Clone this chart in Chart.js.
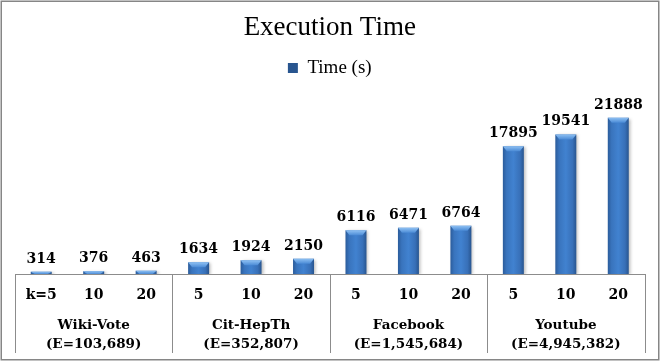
<!DOCTYPE html>
<html>
<head>
<meta charset="utf-8">
<script src="https://cdn.jsdelivr.net/npm/chart.js@4/dist/chart.umd.min.js"></script>
<style>
    html, body { margin: 0; padding: 0; background: #fff; }
    #wrap { width: 661px; height: 362px; }
</style>
</head>
<body>
<div id="wrap"><canvas id="timeChart" width="661" height="362"></canvas></div>
<script>
// 数据
const tickLabels = ["k=5", "10", "20", "5", "10", "20", "5", "10", "20", "5", "10", "20"];
const graphNames = ["Wiki-Vote", "Cit-HepTh", "Facebook", "Youtube"];
const edgeCounts = ["(E=103,689)", "(E=352,807)", "(E=1,545,684)", "(E=4,945,382)"];
const timeSeconds = [314, 376, 463, 1634, 1924, 2150, 6116, 6471, 6764, 17895, 19541, 21888];

const labelFont = '"DejaVu Serif", serif';
const textFont = '"Liberation Serif", "Times New Roman", serif';
const barShare = 0.4;

// 柱子横向渐变
function barFill(context) {
    const chart = context.chart;
    if (!chart.chartArea || context.type !== "data") return "#3f7bc6";
    const xScale = chart.scales.x;
    const cx = xScale.getPixelForValue(context.dataIndex);
    const half = xScale.width / tickLabels.length * barShare / 2;
    const g = chart.ctx.createLinearGradient(cx - half, 0, cx + half, 0);
    g.addColorStop(0, "#2b5c9b");
    g.addColorStop(0.18, "#3974bd");
    g.addColorStop(0.5, "#4182d0");
    g.addColorStop(0.82, "#3870b8");
    g.addColorStop(1, "#28558f");
    return g;
}

// 外框、分组线
const frame = {
    id: "frame",
    beforeInit(chart) {
        const fit = chart.legend.fit;
        chart.legend.fit = function() {
            fit.bind(chart.legend)();
            this.height += 8;
        };
    },
    beforeDatasetDraw(chart) {
        const ctx = chart.ctx;
        ctx.save();
        ctx.shadowColor = "rgba(0,0,0,0.25)";
        ctx.shadowOffsetX = 2;
        ctx.shadowOffsetY = 1;
        ctx.shadowBlur = 3;
    },
    afterDatasetDraw(chart) {
        chart.ctx.restore();
    },
    afterDatasetsDraw(chart) {
        const ctx = chart.ctx;
        const bars = chart.getDatasetMeta(0).data;
        bars.forEach((bar, i) => {
            const left = bar.x - bar.width / 2;
            const right = bar.x + bar.width / 2;
            const h = Math.min(5, bar.base - bar.y);
            // 顶部斜面
            const g = ctx.createLinearGradient(0, bar.y, 0, bar.y + h);
            g.addColorStop(0, "#8fc1f3");
            g.addColorStop(1, "#4b8bd6");
            ctx.fillStyle = g;
            ctx.beginPath();
            ctx.moveTo(left, bar.y);
            ctx.lineTo(right, bar.y);
            ctx.lineTo(right - 4, bar.y + h);
            ctx.lineTo(left + 4, bar.y + h);
            ctx.closePath();
            ctx.fill();

            // 数值标签
            ctx.fillStyle = "#000";
            ctx.font = "bold 14px " + labelFont;
            ctx.textAlign = "center";
            ctx.textBaseline = "alphabetic";
            ctx.fillText(String(timeSeconds[i]), bar.x, bar.y - 9);
        });
    },
    afterDraw(chart) {
        const ctx = chart.ctx;
        const area = chart.chartArea;
        const xs = chart.scales.x;
        const x2 = chart.scales.x2;
        ctx.save();
        ctx.strokeStyle = "#8c8c8c";
        ctx.lineWidth = 1;
        for (let g = 0; g <= graphNames.length; g++) {
            let px;
            if (g === 0) px = area.left;
            else if (g === graphNames.length) px = area.right;
            else px = (xs.getPixelForValue(g * 3 - 1) + xs.getPixelForValue(g * 3)) / 2;
            px = Math.round(px) + 0.5;
            ctx.beginPath();
            ctx.moveTo(px, area.bottom);
            ctx.lineTo(px, x2.bottom - 1);
            ctx.stroke();
        }
        ctx.strokeStyle = "#868686";
        ctx.lineWidth = 1.5;
        ctx.strokeRect(1.25, 1.25, 657.5, 358.5);
        ctx.restore();
    }
};

const timeChart = new Chart(document.getElementById("timeChart"), {
    type: "bar",
    data: {
        labels: tickLabels,
        datasets: [{
            label: "Time (s)",
            data: timeSeconds,
            backgroundColor: barFill,
            borderWidth: 0,
            barPercentage: barShare,
            categoryPercentage: 1,
        }, ],
    },
    options: {
        responsive: false,
        animation: false,
        layout: {
            padding: { left: 15, right: 16.5, top: 0, bottom: 8 },
        },
        plugins: {
            title: {
                display: true,
                text: "Execution Time",
                color: "#000",
                font: { family: textFont, size: 27, weight: "normal" },
                padding: { top: 12, bottom: 4 },
            },
            legend: {
                position: "top",
                labels: {
                    color: "#000",
                    boxWidth: 10,
                    boxHeight: 10,
                    padding: 10,
                    font: { family: textFont, size: 19 },
                },
            },
            tooltip: { enabled: false },
        },
        scales: {
            x: {
                grid: { display: false, drawTicks: false },
                border: { display: true, color: "#8c8c8c", width: 1 },
                ticks: {
                    color: "#000",
                    padding: 12.6,
                    autoSkip: false,
                    maxRotation: 0,
                    font: { family: labelFont, size: 14, weight: "bold" },
                },
            },
            x2: {
                type: "category",
                position: "bottom",
                labels: graphNames.map((name, i) => [name, edgeCounts[i]]),
                offset: true,
                grid: { display: false, drawTicks: false },
                border: { display: false },
                ticks: {
                    color: "#000",
                    padding: 0,
                    autoSkip: false,
                    maxRotation: 0,
                    font: { family: labelFont, size: 13.5, weight: "bold", lineHeight: 19 / 13.5 },
                },
            },
            y: {
                display: false,
                min: 0,
                max: 25000,
            },
        },
    },
    plugins: [frame],
});
</script>
</body>
</html>
